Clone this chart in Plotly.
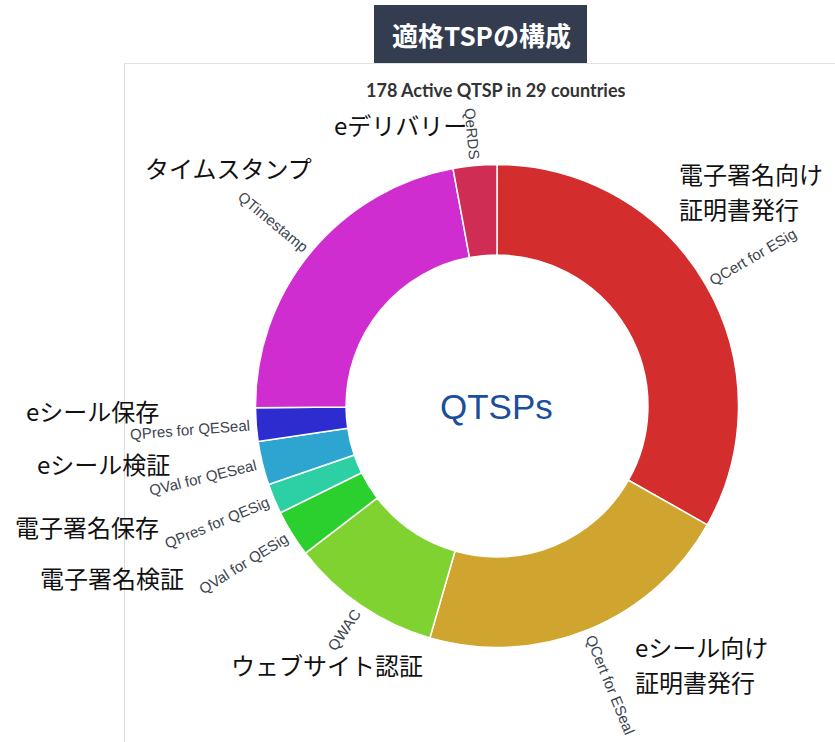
import math
import plotly.graph_objects as go

# ---------------- data ----------------
categories = ["QCert for ESig", "QCert for ESeal", "QWAC", "QVal for QESig",
              "QPres for QESig", "QVal for QESeal", "QPres for QESeal",
              "QTimestamp", "QeRDS"]
counts = [148, 95, 45, 14, 9, 13, 10, 99, 13]
slice_colors = ["#D32D2D", "#CFA52F", "#80D231", "#2CD02E", "#2DD0A5",
                "#2DA5D0", "#2D2DCF", "#D02DD0", "#D02D55"]
jp_labels = ["電子署名向け<br>証明書発行", "eシール向け<br>証明書発行", "ウェブサイト認証",
             "電子署名検証", "電子署名保存", "eシール検証", "eシール保存",
             "タイムスタンプ", "eデリバリー"]
title_text = "適格TSPの構成"
subtitle_text = "178 Active QTSP in 29 countries"
center_text = "QTSPs"

# ---------------- layout geometry ----------------
W, H = 835, 742
CX, CY, R = 497.0, 406.0, 241.5
HOLE = 0.625

def px_x(x):
    return x / W

def px_y(y):
    return 1 - y / H

fig = go.Figure(go.Pie(
    labels=categories, values=counts, sort=False, direction="clockwise",
    rotation=0, hole=HOLE, textinfo="none", hoverinfo="label+value",
    marker=dict(colors=slice_colors, line=dict(color="white", width=1.5)),
    domain=dict(x=[px_x(CX - R), px_x(CX + R)], y=[px_y(CY + R), px_y(CY - R)]),
    showlegend=False,
))

# Arial / Liberation Sans advance widths (per 1000 em)
AW = {"Q": 778, "C": 722, "e": 556, "r": 333, "t": 278, " ": 278, "f": 278,
      "o": 556, "E": 667, "S": 667, "i": 222, "g": 556, "a": 556, "l": 222,
      "W": 944, "A": 667, "V": 667, "P": 667, "s": 500, "T": 611, "m": 833,
      "p": 556, "R": 722, "D": 722}
FS = 15
GAP = 6

annotations = []
total = sum(counts)
cum = 0
for name, v in zip(categories, counts):
    theta = 360.0 * (cum + v / 2.0) / total
    cum += v
    L = sum(AW.get(ch, 556) for ch in name) / 1000.0 * FS
    rr = R + GAP + L / 2.0
    t = math.radians(theta)
    x = CX + rr * math.sin(t)
    y = CY - rr * math.cos(t)
    ang = theta - 90 if theta < 180 else theta - 270
    annotations.append(dict(
        text=name, x=px_x(x), y=px_y(y), xref="paper", yref="paper",
        xanchor="center", yanchor="middle", showarrow=False, textangle=ang,
        borderpad=0,
        font=dict(family="Liberation Sans, Arial", size=FS, color="#3c4450"),
    ))

# Japanese call-out labels (layout positions of block centres, in pixels)
jp_pos = [
    (678, 190.5, "left"), (634, 664, "left"), (326.5, 664, "center"),
    (111.5, 577, "center"), (86.5, 526, "center"), (103, 463, "center"),
    (92.5, 410, "center"), (228.5, 168, "center"), (400, 124, "center"),
]
LINE_STEP = 35
for txt, (x, y, anc) in zip(jp_labels, jp_pos):
    lines = txt.split("<br>")
    y_first = y - LINE_STEP * (len(lines) - 1) / 2.0
    for i, ln in enumerate(lines):
        annotations.append(dict(
            text=ln, x=px_x(x), y=px_y(y_first + i * LINE_STEP),
            xref="paper", yref="paper",
            xanchor=anc, yanchor="middle", align="left", showarrow=False,
            borderpad=0,
            font=dict(family="Noto Sans CJK JP", size=24, color="#111111"),
        ))

# center text
annotations.append(dict(
    text=center_text, x=px_x(CX - 1), y=px_y(CY), xref="paper", yref="paper",
    xanchor="center", yanchor="middle", showarrow=False,
    font=dict(family="Liberation Sans, Arial", size=35, color="#1B4F9B"),
))
# subtitle
annotations.append(dict(
    text="<b>" + subtitle_text + "</b>", x=px_x(496), y=px_y(90),
    xref="paper", yref="paper", xanchor="center", yanchor="middle",
    showarrow=False, font=dict(family="Lato", size=18, color="#333333"),
))
# title in dark box
annotations.append(dict(
    text="<b>" + title_text + "</b>", x=px_x(481), y=px_y(35),
    xref="paper", yref="paper", xanchor="center", yanchor="middle",
    showarrow=False, font=dict(family="Noto Sans CJK JP", size=26, color="white"),
))

shapes = [
    dict(type="line", xref="paper", yref="paper", x0=px_x(124.5), x1=px_x(124.5),
         y0=px_y(63), y1=0, line=dict(color="#DDDDDD", width=1)),
    dict(type="line", xref="paper", yref="paper", x0=px_x(124.5), x1=1,
         y0=px_y(63.5), y1=px_y(63.5), line=dict(color="#E2E2E2", width=1)),
    dict(type="rect", xref="paper", yref="paper", x0=px_x(374), x1=px_x(587),
         y0=px_y(63), y1=px_y(5), fillcolor="#343D50", line=dict(width=0)),
]

fig.update_layout(
    width=W, height=H, margin=dict(l=0, r=0, t=0, b=0),
    paper_bgcolor="white", plot_bgcolor="white",
    annotations=annotations, shapes=shapes,
)

fig.write_html("out.html", config={"displayModeBar": False},
               post_script="document.body.style.margin='0px';"
                           "document.body.style.overflow='hidden';")
